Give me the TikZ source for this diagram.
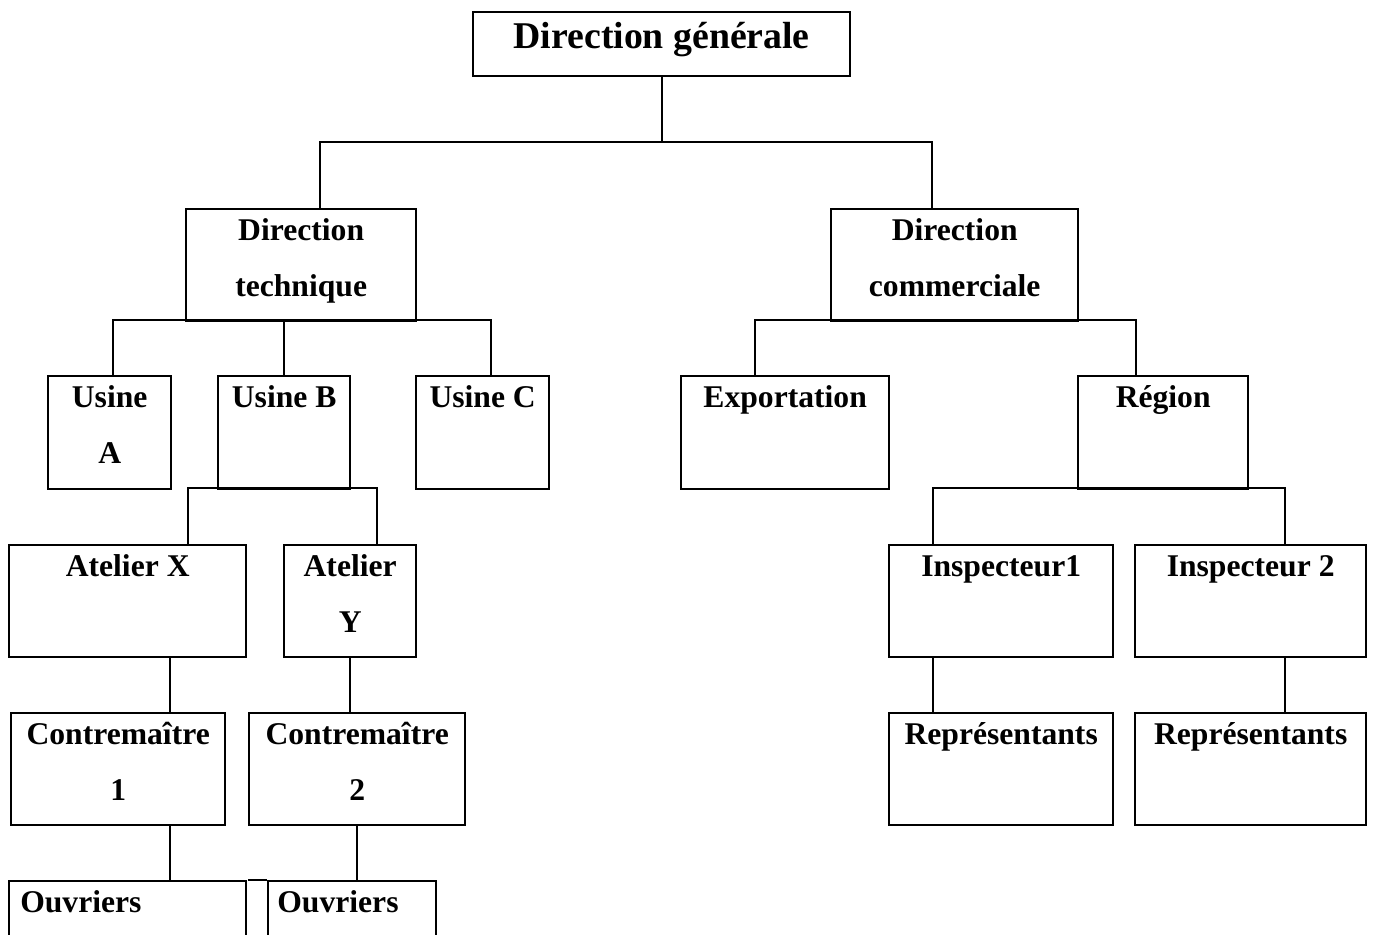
\documentclass[tikz,border=0pt]{standalone}
\usepackage{fontspec}
\setmainfont{Liberation Serif}
\usetikzlibrary{positioning}

% box from (x1,y1) to (x2,y2) in pixel units, text hung from the top edge
\newcommand{\lblstrut}{\rule{0pt}{14pt}}
\newcommand{\orgbox}[6]{%
  \node[orgst, minimum width={(#4-#2)*0.02cm}, minimum height={(#5-#3)*0.02cm},
        label={[lblst]north:{\lblstrut #6}}] (#1) at (#2,#3) {};}

\begin{document}
\begin{tikzpicture}[
  x=0.02cm, y=-0.02cm,
  %--- styles --------------------------------------------------------
  orgst/.style  = {draw, line width=1.35pt, rectangle,
                   anchor=north west, inner sep=0pt},
  lblst/.style  = {anchor=north, align=center, inner sep=0pt,
                   yshift=-4.2pt,
                   font=\fontsize{18}{32}\selectfont\bfseries},
  titlest/.style= {anchor=north, align=center, inner sep=0pt,
                   yshift=-6pt,
                   font=\fontsize{21.5}{32}\selectfont\bfseries},
  link/.style   = {line width=1.35pt},
]
\useasboundingbox (0,0) rectangle (1387,934);
\clip (0,0) rectangle (1387,934);

% ---- Nodes --------------------------------------------------------
\node[orgst, minimum width={377*0.02cm}, minimum height={64*0.02cm},
      label={[titlest]north:{\lblstrut Direction générale}}] (dg) at (472,11) {};

\orgbox{dt}{185}{208}{415}{320}{Direction\\technique}
\orgbox{dc}{830}{208}{1077}{320}{Direction\\commerciale}

\orgbox{ua}{47}{375}{170}{488}{Usine\\A}
\orgbox{ub}{217}{375}{349}{488}{Usine B}
\orgbox{uc}{415}{375}{548}{488}{Usine C}
\orgbox{ex}{680}{375}{888}{488}{Exportation}
\orgbox{rg}{1077}{375}{1247}{488}{Région}

\orgbox{ax}{8}{544}{245}{656}{Atelier X}
\orgbox{ay}{283}{544}{415}{656}{Atelier\\Y}
\orgbox{ia}{888}{544}{1112}{656}{Inspecteur1}
\orgbox{ib}{1134}{544}{1365}{656}{Inspecteur 2}

\orgbox{ca}{10}{712}{224}{824}{Contremaître\\1}
\orgbox{cb}{248}{712}{464}{824}{Contremaître\\2}
\orgbox{ra}{888}{712}{1112}{824}{Représentants}
\orgbox{rb}{1134}{712}{1365}{824}{Représentants}

\node[orgst, minimum width={237*0.02cm}, minimum height={112*0.02cm},
      label={[lblst, anchor=north west, xshift=6.8pt]north west:{\lblstrut Ouvriers}}]
      (oa) at (8,880) {};
\node[orgst, minimum width={168*0.02cm}, minimum height={112*0.02cm},
      label={[lblst, anchor=north west, xshift=5.7pt]north west:{\lblstrut Ouvriers}}]
      (ob) at (267,880) {};

% ---- Links --------------------------------------------------------
\draw[link] (dg.south) -- (dg.south |- 0,142);
\draw[link] (dt.north -| 320,0) |- (932,142) -- (dc.north -| 932,0);

\draw[link] (ua.north -| 113,0) |- (491,320) -- (uc.north -| 491,0);
\draw[link] (dt.south -| 284,0) -- (ub.north -| 284,0);
\draw[link] (ex.north -| 755,0) |- (1136,320) -- (rg.north -| 1136,0);

\draw[link] (ax.north -| 188,0) |- (377,488) -- (ay.north -| 377,0);
\draw[link] (ia.north -| 933,0) |- (1285,488) -- (ib.north -| 1285,0);

\draw[link] (ax.south -| 170,0) -- (ca.north -| 170,0);
\draw[link] (ay.south) -- (ay.south |- cb.north);
\draw[link] (ia.south -| 933,0) -- (ra.north -| 933,0);
\draw[link] (ib.south -| 1285,0) -- (rb.north -| 1285,0);

\draw[link] (ca.south -| 170,0) -- (oa.north -| 170,0);
\draw[link] (cb.south -| 357,0) -- (ob.north -| 357,0);
\draw[link] (ob.north west) -- ++(-19,0);

\end{tikzpicture}
\end{document}
